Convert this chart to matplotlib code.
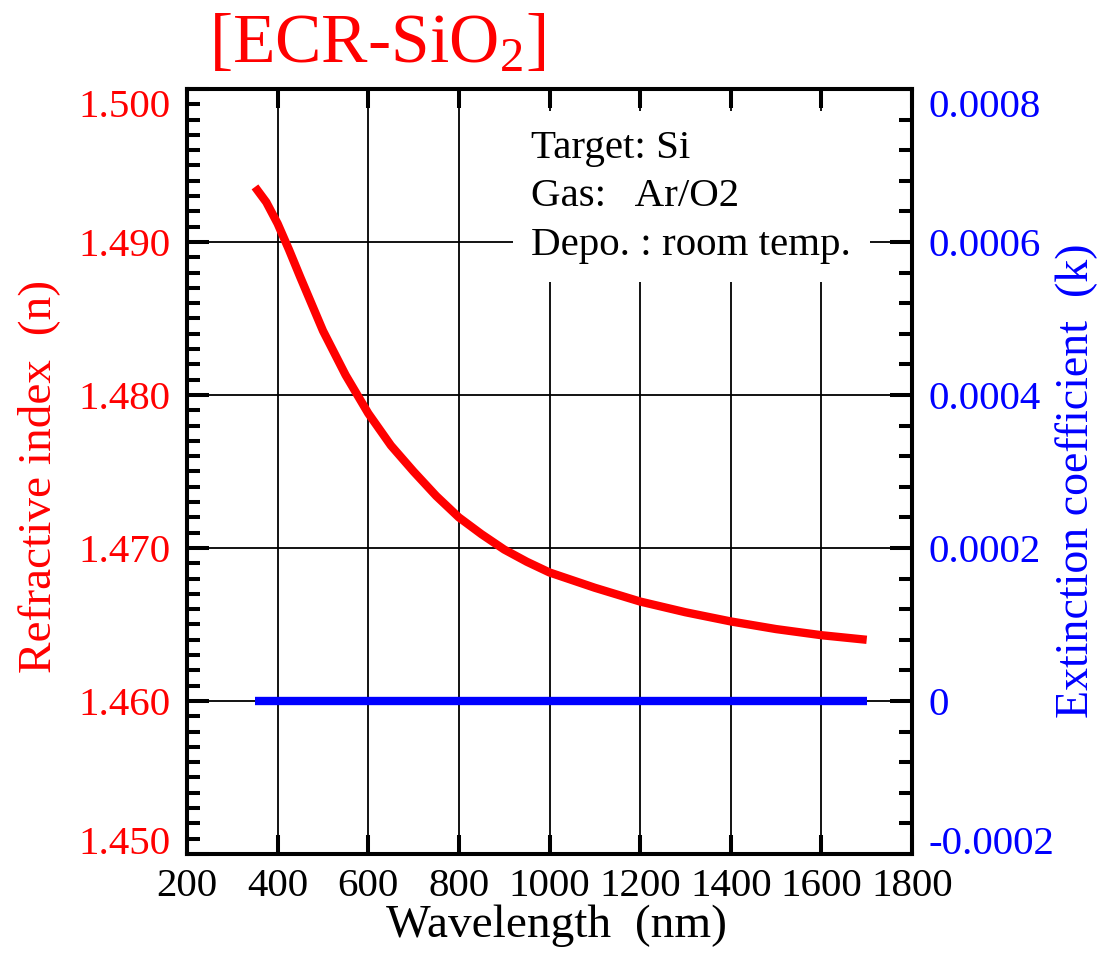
import numpy as np
import matplotlib
matplotlib.use("Agg")
import matplotlib.pyplot as plt
from matplotlib.ticker import MultipleLocator, FuncFormatter

# ---- DATA ----
wavelength = [350, 375, 400, 425, 450, 500, 550, 600, 650, 700, 750, 800,
              850, 900, 950, 1000, 1100, 1200, 1300, 1400, 1500, 1600, 1700]
n_index = [1.4936, 1.4926, 1.4912, 1.4895, 1.4877, 1.4842, 1.4813, 1.4788,
           1.4767, 1.4750, 1.4734, 1.4720, 1.4709, 1.4699, 1.4691, 1.4684,
           1.4674, 1.4665, 1.4658, 1.4652, 1.4647, 1.4643, 1.4640]
k_wavelength = [350, 1700]
k_ext = [0.0, 0.0]

x_ticks = [200, 400, 600, 800, 1000, 1200, 1400, 1600, 1800]
info_lines = ["Target: Si", "Gas:   Ar/O2", "Depo. : room temp."]

RED = "#ff0000"
BLUE = "#0000ff"

plt.rcParams['font.family'] = ['Liberation Serif', 'DejaVu Serif']
plt.rcParams['mathtext.fontset'] = 'custom'
plt.rcParams['mathtext.rm'] = 'Liberation Serif'
plt.rcParams['mathtext.it'] = 'Liberation Serif:italic'

fig = plt.figure(figsize=(11.02, 9.59), dpi=100)
ax = fig.add_axes([0.1697, 0.1095, 0.6579, 0.7977])
ax2 = ax.twinx()

ax.plot(wavelength, n_index, color=RED, lw=6, solid_capstyle='butt', zorder=3)
ax2.plot(k_wavelength, k_ext, color=BLUE, lw=6, solid_capstyle='butt', zorder=3)

ax.set_xlim(200, 1800)
ax.set_ylim(1.450, 1.500)
ax2.set_ylim(-0.0002, 0.0008)

ax.set_xticks(x_ticks)
ax.yaxis.set_major_locator(MultipleLocator(0.01))
ax.yaxis.set_minor_locator(MultipleLocator(0.001))
ax.yaxis.set_major_formatter(FuncFormatter(lambda v, p: f"{v:.3f}"))
ax2.yaxis.set_major_locator(MultipleLocator(0.0002))
ax2.yaxis.set_minor_locator(MultipleLocator(0.00004))
ax2.yaxis.set_major_formatter(
    FuncFormatter(lambda v, p: "0" if abs(v) < 1e-12 else f"{v:.4f}"))

ax.grid(True, which='major', color='black', lw=1.3)

ax.tick_params(axis='x', which='major', direction='in', top=True, length=14,
               width=2.9, labelsize=29.5, pad=10, colors='black')
ax.tick_params(axis='y', which='major', direction='in', length=16, width=2.9,
               labelsize=29.5, pad=12, labelcolor=RED)
ax.tick_params(axis='y', which='minor', direction='in', length=9.5, width=2.9)
ax2.tick_params(axis='y', which='major', direction='in', length=16, width=2.9,
                labelsize=29.5, pad=12, labelcolor=BLUE)
ax2.tick_params(axis='y', which='minor', direction='in', length=9.5, width=2.9)

for a in (ax, ax2):
    for s in a.spines.values():
        s.set_linewidth(2.9)

ax.set_xlabel("Wavelength  (nm)", fontsize=34)
ax.xaxis.set_label_coords(0.51, -0.066)
ax.set_ylabel("Refractive index  (n)", fontsize=34, color=RED)
ax.yaxis.set_label_coords(-0.175, 0.494)
ax2.set_ylabel("Extinction coefficient  (k)", fontsize=33, color=BLUE)
ax2.yaxis.set_label_coords(1.197, 0.488)

ax.text(0.475, 0.947, "\n".join(info_lines), transform=ax.transAxes,
        fontsize=29.5, va='top', ha='left', linespacing=1.42, zorder=2,
        bbox=dict(boxstyle='square,pad=0.45', fc='white', ec='none'))

fig.text(0.342, 0.952, r"[ECR-SiO$_2$]", fontsize=50, color=RED,
         ha='center', va='center')

# end labels sit inside the axis range like in the reference
fig.canvas.draw()
for a in (ax, ax2):
    lo, hi = a.get_ylim()
    tol = abs(hi - lo) * 1e-6
    for t in a.yaxis.get_major_ticks():
        loc = t.get_loc()
        if abs(loc - lo) < tol:
            t.label1.set_va('baseline')
            t.label2.set_va('baseline')
        elif abs(loc - hi) < tol:
            t.label1.set_va('top')
            t.label2.set_va('top')

fig.savefig("out.png", dpi=100)
